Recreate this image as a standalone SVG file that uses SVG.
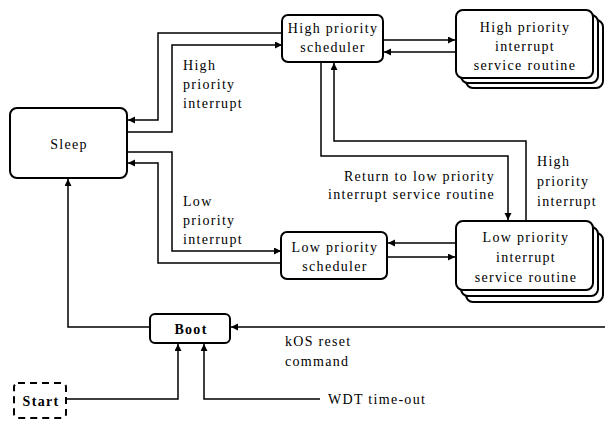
<svg xmlns="http://www.w3.org/2000/svg" width="605" height="421" viewBox="0 0 605 421">
<defs>
<marker id="ah" markerUnits="userSpaceOnUse" markerWidth="8" markerHeight="8" refX="7" refY="3.5" orient="auto"><path d="M0,0 L7,3.5 L0,7 z" fill="#000"/></marker>
<style>
.box{fill:#fff;stroke:#000;stroke-width:2}
.t{font-size:14px;fill:#000;letter-spacing:1.3px}
.c{text-anchor:middle}
.ln{fill:none;stroke:#000;stroke-width:1.5;marker-end:url(#ah)}
</style>
</defs>
<rect width="605" height="421" fill="#fff"/>
<g id="connectors">
<path class="ln" d="M282,33 H158 V120 H128"/>
<path class="ln" d="M127,132 H172 V45 H282"/>
<path class="ln" d="M127,152 H172 V251 H281"/>
<path class="ln" d="M281,263 H158 V163 H128"/>
<path class="ln" d="M383,40 H455"/>
<path class="ln" d="M455,52 H384"/>
<path class="ln" d="M321,62 V156 H508 V220"/>
<path class="ln" d="M526,221 V141 H334 V63"/>
<path class="ln" d="M456,243 H388"/>
<path class="ln" d="M387,257 H455"/>
<path class="ln" d="M150,327 H68 V179"/>
<path class="ln" d="M605,327 H231"/>
<path class="ln" d="M66,399 H178 V344"/>
<path class="ln" d="M320,399 H204 V344"/>
</g>
<g font-family="'Liberation Serif', 'DejaVu Serif', serif">
<g id="sleep"><rect class="box" x="10" y="108" width="117" height="70" rx="7"/><text class="t c" x="69" y="149">Sleep</text></g>
<g id="high-scheduler"><rect class="box" x="282" y="15" width="101" height="47" rx="6"/><text class="t c" x="333" y="33">High priority</text><text class="t c" x="333" y="52">scheduler</text></g>
<g id="high-isr">
<rect class="box" x="466" y="20" width="137" height="68" rx="7"/>
<rect class="box" x="461" y="15" width="137" height="68" rx="7"/>
<rect class="box" x="456" y="10" width="137" height="68" rx="7"/>
<text class="t c" x="525" y="32">High priority</text><text class="t c" x="525" y="51">interrupt</text><text class="t c" x="525" y="70">service routine</text></g>
<g id="low-scheduler"><rect class="box" x="281" y="232" width="106" height="47" rx="6"/><text class="t c" x="335" y="252">Low priority</text><text class="t c" x="335" y="271">scheduler</text></g>
<g id="low-isr">
<rect class="box" x="466" y="233" width="137" height="69" rx="7"/>
<rect class="box" x="461" y="227" width="137" height="69" rx="7"/>
<rect class="box" x="456" y="221" width="137" height="69" rx="7"/>
<text class="t c" x="526" y="242">Low priority</text><text class="t c" x="526" y="262">interrupt</text><text class="t c" x="526" y="282">service routine</text></g>
<g id="boot"><rect class="box" x="150" y="314" width="80" height="29" rx="5"/><text class="t c" x="191" y="334" font-weight="bold">Boot</text></g>
<g id="start"><rect x="14" y="383" width="52" height="35" rx="4" fill="#fff" stroke="#000" stroke-width="2" stroke-dasharray="7,5"/><text class="t c" x="41" y="406" font-weight="bold">Start</text></g>
<g id="labels">
<text class="t" x="183" y="70">High</text><text class="t" x="183" y="89">priority</text><text class="t" x="183" y="108">interrupt</text>
<text class="t" x="183" y="206">Low</text><text class="t" x="183" y="225">priority</text><text class="t" x="183" y="244">interrupt</text>
<text class="t" x="495" y="181" text-anchor="end">Return to low priority</text><text class="t" x="495" y="199" text-anchor="end">interrupt service routine</text>
<text class="t" x="537" y="166">High</text><text class="t" x="537" y="186">priority</text><text class="t" x="537" y="206">interrupt</text>
<text class="t" x="285" y="346">kOS reset</text><text class="t" x="285" y="366">command</text>
<text class="t" x="328" y="404">WDT time-out</text>
</g>
</g>
</svg>
